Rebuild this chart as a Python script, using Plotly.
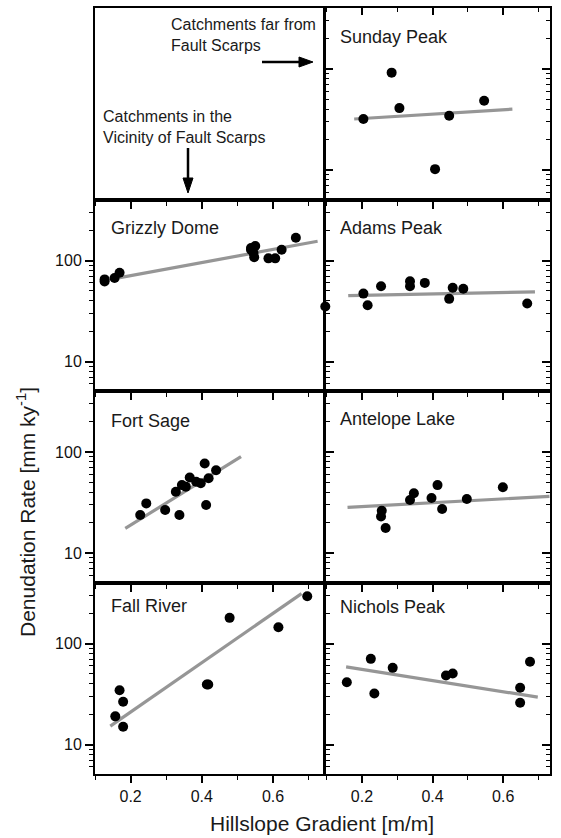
import plotly.graph_objects as go

W, H = 561, 838

# ---------------- data ----------------
panels = ["Sunday Peak", "Grizzly Dome", "Adams Peak", "Fort Sage",
          "Antelope Lake", "Fall River", "Nichols Peak"]

sunday_x = [0.204, 0.284, 0.306, 0.447, 0.407, 0.546]
sunday_y = [32, 92, 41, 34.5, 10.2, 48.5]
sunday_fit_x = [0.178, 0.626]
sunday_fit_y = [32, 40]

grizzly_x = [0.127, 0.127, 0.155, 0.169, 0.538, 0.550, 0.545, 0.547, 0.538, 0.587, 0.606, 0.624, 0.664]
grizzly_y = [62, 65, 67, 75.5, 128, 139, 119, 108, 133, 105, 105, 128, 168]
grizzly_fit_x = [0.143, 0.725]
grizzly_fit_y = [65, 155]

adams_x = [0.096, 0.204, 0.216, 0.254, 0.336, 0.336, 0.378, 0.447, 0.457, 0.487, 0.668]
adams_y = [35, 47, 36, 55.7, 62.4, 55.7, 60, 41.7, 53.7, 52.5, 37.5]
adams_fit_x = [0.161, 0.690]
adams_fit_y = [45, 49]

fortsage_x = [0.227, 0.244, 0.297, 0.337, 0.327, 0.344, 0.355, 0.366, 0.384, 0.397, 0.408, 0.419, 0.412, 0.440]
fortsage_y = [23.8, 31, 26.7, 23.8, 40.4, 47, 45.4, 56, 50.8, 49, 77, 55, 29.9, 66]
fortsage_fit_x = [0.185, 0.510]
fortsage_fit_y = [17.5, 90]

antelope_x = [0.256, 0.254, 0.267, 0.336, 0.347, 0.397, 0.414, 0.427, 0.497, 0.599]
antelope_y = [26.2, 23, 17.7, 33.5, 39, 35, 47, 27.3, 34.3, 44.7]
antelope_fit_x = [0.159, 0.731]
antelope_fit_y = [28.3, 36.4]

fall_x = [0.157, 0.169, 0.179, 0.179, 0.414, 0.418, 0.478, 0.615, 0.696]
fall_y = [19, 34.5, 26.5, 15, 39.3, 39.3, 179.5, 145, 294]
fall_fit_x = [0.143, 0.680]
fall_fit_y = [15.2, 312]

nichols_x = [0.157, 0.225, 0.235, 0.287, 0.438, 0.457, 0.648, 0.648, 0.676]
nichols_y = [41.4, 70.5, 32, 57.4, 48.2, 50.5, 36.4, 25.9, 66]
nichols_fit_x = [0.155, 0.698]
nichols_fit_y = [58.8, 29.4]

y_tickvals = [10, 100]
y_ticktext = ["10", "100"]
x_tickvals = [0.2, 0.4, 0.6]
x_ticktext = ["0.2", "0.4", "0.6"]
y_minor = [6, 7, 8, 9, 20, 30, 40, 50, 60, 70, 80, 90, 200, 300]
x_minor = [0.1, 0.3, 0.5, 0.7]

# ---------------- layout geometry (pixels) ----------------
rows_px = [(8, 199.5), (199.5, 391), (391, 582.5), (582.5, 774)]
cols_px = [(95, 324), (324.5, 550)]
x_ranges = [[0.1, 0.743], [0.0938, 0.7326]]
y_range = [0.708, 2.604]

# (row, col, name, x, y, fitx, fity, label_y_px)
panel_specs = [
    (0, 0, None, None, None, None, None, None),
    (0, 1, "Sunday Peak", sunday_x, sunday_y, sunday_fit_x, sunday_fit_y, 37),
    (1, 0, "Grizzly Dome", grizzly_x, grizzly_y, grizzly_fit_x, grizzly_fit_y, 228),
    (1, 1, "Adams Peak", adams_x, adams_y, adams_fit_x, adams_fit_y, 228),
    (2, 0, "Fort Sage", fortsage_x, fortsage_y, fortsage_fit_x, fortsage_fit_y, 421),
    (2, 1, "Antelope Lake", antelope_x, antelope_y, antelope_fit_x, antelope_fit_y, 419),
    (3, 0, "Fall River", fall_x, fall_y, fall_fit_x, fall_fit_y, 606),
    (3, 1, "Nichols Peak", nichols_x, nichols_y, nichols_fit_x, nichols_fit_y, 607),
]

FONT = "Liberation Sans, Arial, Helvetica, sans-serif"
fig = go.Figure()
layout = dict(
    width=W, height=H, margin=dict(l=0, r=0, t=0, b=0),
    paper_bgcolor="white", plot_bgcolor="white", showlegend=False,
    font=dict(family=FONT, size=16, color="#111111"),
)
annotations = []

for i, (r, c, name, xs, ys, fx, fy, ly) in enumerate(panel_specs):
    k = i + 1
    xa = "xaxis" if k == 1 else f"xaxis{k}"
    ya = "yaxis" if k == 1 else f"yaxis{k}"
    xref = "x" if k == 1 else f"x{k}"
    yref = "y" if k == 1 else f"y{k}"
    top, bot = rows_px[r]
    left, right = cols_px[c]
    is_bottom = (r == 3)
    empty = name is None
    layout[xa] = dict(
        domain=[left / W, right / W], range=x_ranges[c], anchor=yref,
        showline=True, linecolor="black", linewidth=2, mirror=True,
        showgrid=False, zeroline=False,
        tickmode="array", tickvals=x_tickvals, ticktext=x_ticktext,
        ticks="outside", ticklen=7, tickwidth=1.5, tickcolor="black",
        showticklabels=is_bottom, tickfont=dict(size=16, color="#111111"),
        minor=dict(tickmode="array", tickvals=x_minor, ticks="outside",
                   ticklen=4, tickwidth=1.2, tickcolor="black", showgrid=False),
    )
    yax = dict(
        domain=[1 - bot / H, 1 - top / H], type="log", range=y_range, anchor=xref,
        showline=True, linecolor="black", linewidth=2, mirror=True,
        showgrid=False, zeroline=False,
        tickmode="array", tickvals=y_tickvals, ticktext=y_ticktext,
        tickfont=dict(size=16, color="#111111"),
    )
    if empty:
        yax.update(ticks="", showticklabels=False)
    elif c == 0:
        yax.update(ticks="outside", ticklen=8, tickwidth=1.5, tickcolor="black",
                   mirror="ticks", showticklabels=True,
                   minor=dict(tickmode="array", tickvals=y_minor, ticks="outside",
                              ticklen=4, tickwidth=1.2, tickcolor="black", showgrid=False))
    else:
        yax.update(ticks="inside", ticklen=8, tickwidth=1.5, tickcolor="black",
                   mirror="ticks", showticklabels=False,
                   minor=dict(tickmode="array", tickvals=y_minor, ticks="inside",
                              ticklen=4, tickwidth=1.2, tickcolor="black", showgrid=False))
    layout[ya] = yax

    if empty:
        fig.add_trace(go.Scatter(x=[], y=[], xaxis=xref, yaxis=yref))
        continue

    fig.add_trace(go.Scatter(
        x=fx, y=fy, mode="lines", xaxis=xref, yaxis=yref,
        line=dict(color="#969696", width=3.2), cliponaxis=False, hoverinfo="skip"))
    fig.add_trace(go.Scatter(
        x=xs, y=ys, mode="markers", xaxis=xref, yaxis=yref,
        marker=dict(color="black", size=10, line=dict(width=0)), cliponaxis=False))

    lx = 109 if c == 0 else 338
    annotations.append(dict(
        text=name, x=lx / W, y=1 - ly / H, xref="paper", yref="paper",
        xanchor="left", yanchor="middle", showarrow=False,
        font=dict(size=18, color="#1a1a1a", family=FONT)))

# extra top axis for the Sunday Peak panel (ticks on its top edge)
layout["xaxis9"] = dict(
    overlaying="x2", side="top", anchor="y2", range=x_ranges[1],
    showline=False, showgrid=False, zeroline=False,
    tickmode="array", tickvals=x_tickvals, ticks="inside", ticklen=7,
    tickwidth=1.5, tickcolor="black", showticklabels=False,
    minor=dict(tickmode="array", tickvals=x_minor, ticks="inside",
               ticklen=4, tickwidth=1.2, tickcolor="black", showgrid=False),
)
fig.add_trace(go.Scatter(x=[], y=[], xaxis="x9", yaxis="y2"))

# text in the empty top-left panel and axis titles
annotations += [
    dict(text="Catchments far from<br>Fault Scarps", x=169 / W, y=1 - 35 / H,
         xref="paper", yref="paper", xanchor="left", yanchor="middle", align="left",
         showarrow=False, font=dict(size=16, color="#1a1a1a", family=FONT)),
    dict(text="Catchments in the<br>Vicinity of Fault Scarps", x=101 / W, y=1 - 127.5 / H,
         xref="paper", yref="paper", xanchor="left", yanchor="middle", align="left",
         showarrow=False, font=dict(size=16, color="#1a1a1a", family=FONT)),
    dict(text="Hillslope Gradient [m/m]", x=322 / W, y=1 - 823 / H,
         xref="paper", yref="paper", xanchor="center", yanchor="middle",
         showarrow=False, font=dict(size=21, color="#1a1a1a", family=FONT)),
    dict(text="Denudation Rate [mm ky<sup>-1</sup>]", x=26 / W, y=1 - 512 / H,
         xref="paper", yref="paper", xanchor="center", yanchor="middle", textangle=-90,
         showarrow=False, font=dict(size=21, color="#1a1a1a", family=FONT)),
]
layout["annotations"] = annotations


def px(x):
    return x / W


def py(y):
    return 1 - y / H


# arrows drawn as shapes (shaft + filled head)
shapes = [
    dict(type="line", xref="paper", yref="paper", x0=px(262), y0=py(62), x1=px(302), y1=py(62),
         line=dict(color="black", width=2.5)),
    dict(type="path", xref="paper", yref="paper",
         path=f"M {px(299)},{py(57)} L {px(313)},{py(62)} L {px(299)},{py(67)} Z",
         fillcolor="black", line=dict(color="black", width=1)),
    dict(type="line", xref="paper", yref="paper", x0=px(188), y0=py(148), x1=px(188), y1=py(181),
         line=dict(color="black", width=2.5)),
    dict(type="path", xref="paper", yref="paper",
         path=f"M {px(183)},{py(178)} L {px(188)},{py(193)} L {px(193)},{py(178)} Z",
         fillcolor="black", line=dict(color="black", width=1)),
]
layout["shapes"] = shapes
fig.update_layout(**layout)
fig.write_html("out.html", config={"displayModeBar": False},
               post_script="document.body.style.margin='0';document.body.style.padding='0';")
